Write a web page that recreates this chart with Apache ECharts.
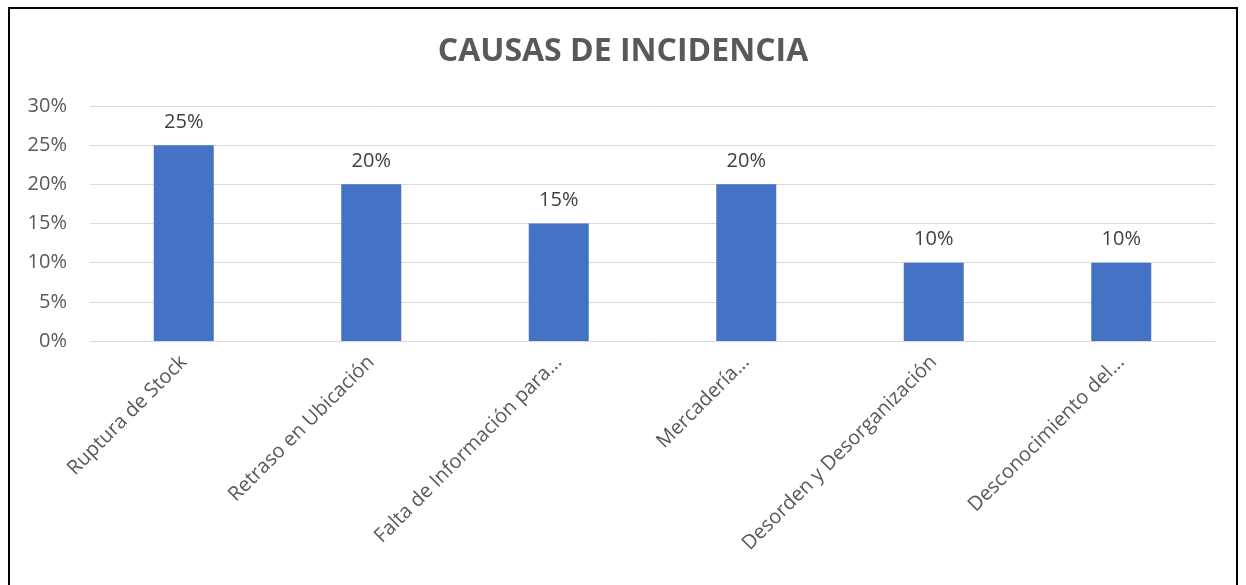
<!DOCTYPE html>
<html>
<head>
<meta charset="utf-8">
<script src="https://cdn.jsdelivr.net/npm/echarts@6/dist/echarts.min.js"></script>
<style>
  html, body { margin: 0; padding: 0; background: #fff; }
  #frame { position: absolute; left: 8px; top: 7px; width: 1230px; height: 600px; border: 2px solid #000; box-sizing: border-box; }
  #main { position: absolute; left: 0; top: 0; width: 1246px; height: 585px; }
</style>
</head>
<body>
<div id="main"></div>
<div id="frame"></div>
<script>
  // datos del gráfico
  const categorias = ['Ruptura de Stock', 'Retraso en Ubicación', 'Falta de Información para...', 'Mercadería...', 'Desorden y Desorganización', 'Desconocimiento del...'];
  const valores = [25, 20, 15, 20, 10, 10];
  const ticksY = [0, 5, 10, 15, 20, 25, 30];

  const myChart = echarts.init(document.getElementById('main'));
  const fuente = '"Open Sans", "Noto Sans", sans-serif';

  myChart.setOption({
    animation: false,
    title: {
      text: 'CAUSAS DE INCIDENCIA',
      left: 'center',
      top: 31,
      textStyle: { fontFamily: fuente, fontWeight: 'bold', fontSize: 32, color: '#595959' }
    },
    grid: { left: 90, right: 31, top: 106, bottom: 244 },
    xAxis: {
      type: 'category',
      data: categorias,
      axisLine: { lineStyle: { color: '#d9d9d9', width: 1 } },
      axisTick: { show: false },
      axisLabel: {
        rotate: 45,
        interval: 0,
        margin: 18,
        fontFamily: fuente,
        fontSize: 20,
        color: '#595959'
      }
    },
    yAxis: {
      type: 'value',
      min: ticksY[0],
      max: ticksY[ticksY.length - 1],
      interval: 5,
      axisLine: { show: false },
      axisTick: { show: false },
      splitLine: { lineStyle: { color: '#d9d9d9', width: 1 } },
      axisLabel: {
        formatter: '{value}%',
        margin: 23,
        fontFamily: fuente,
        fontSize: 20,
        color: '#595959'
      }
    },
    series: [{
      type: 'bar',
      data: valores,
      barWidth: 60,
      itemStyle: { color: '#4472c4' },
      label: {
        show: true,
        position: 'top',
        distance: 13,
        formatter: '{c}%',
        fontFamily: fuente,
        fontSize: 20,
        color: '#404040'
      }
    }]
  });
</script>
</body>
</html>
